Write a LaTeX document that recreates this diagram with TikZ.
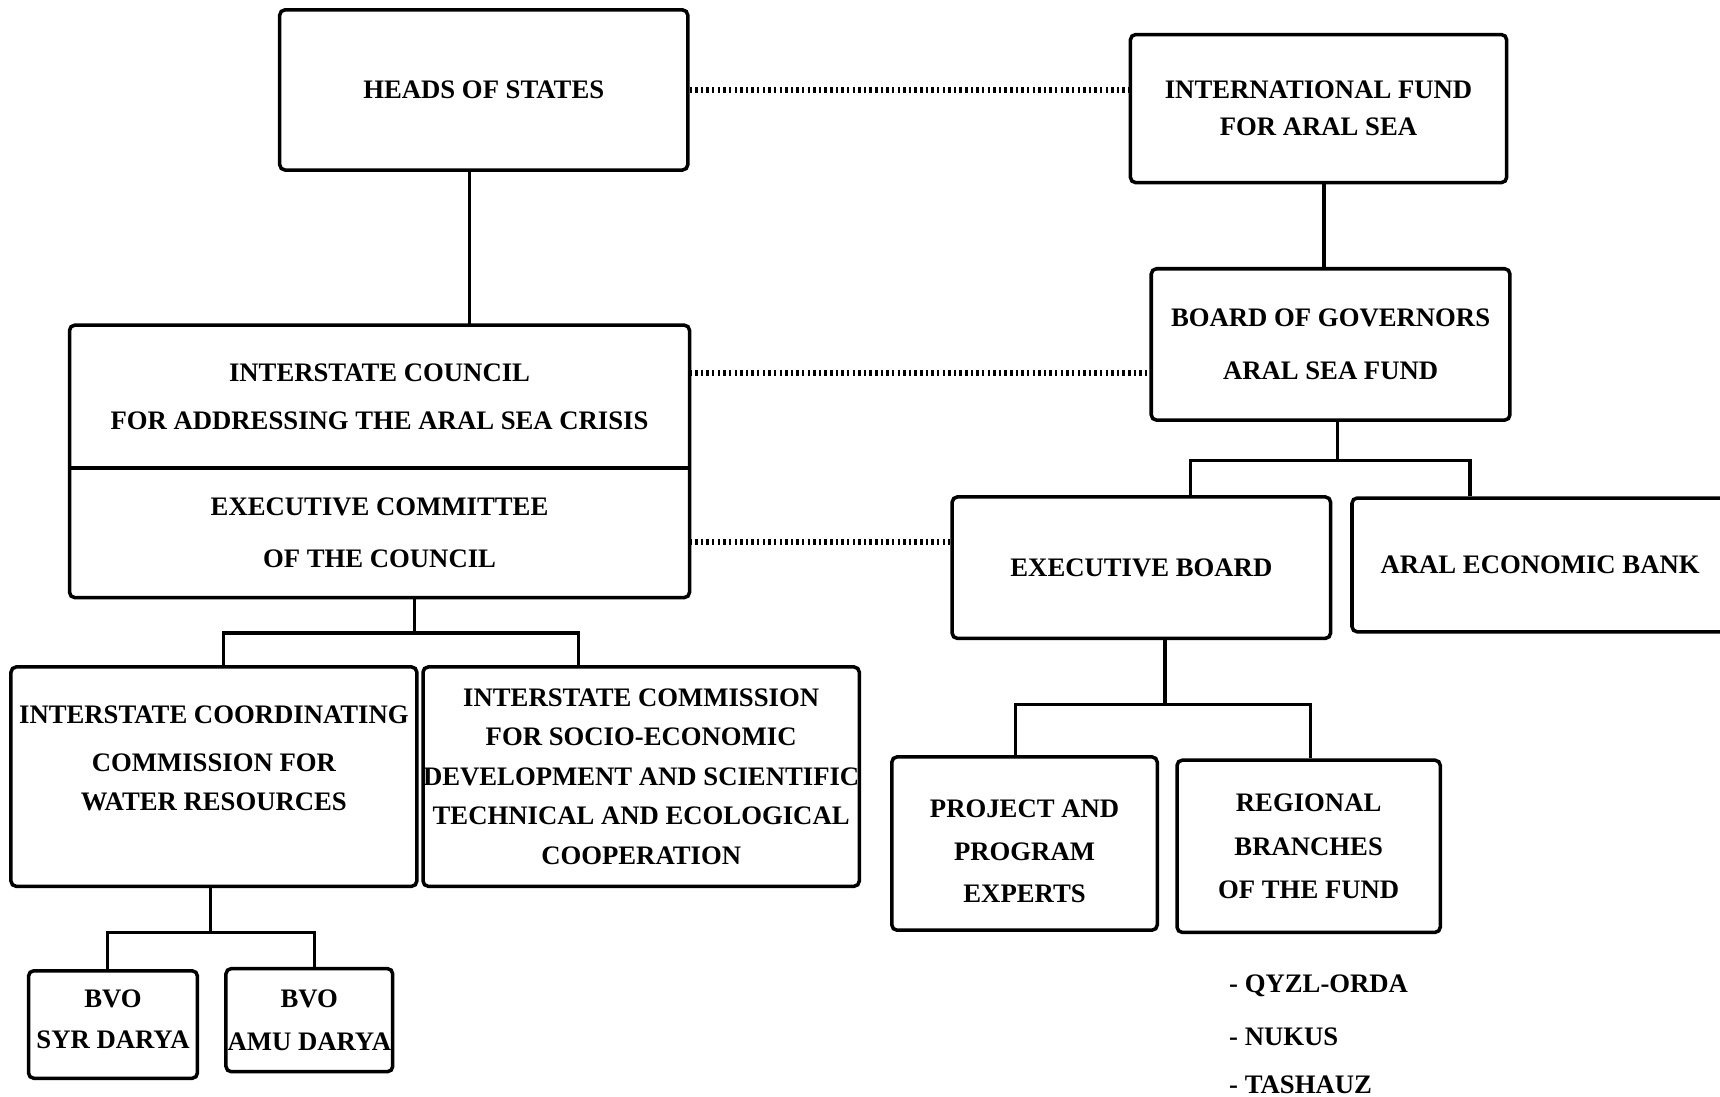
\documentclass[tikz,border=0pt]{standalone}
\usepackage{fontspec}
\setmainfont{Liberation Serif}
\tikzset{
  orgbox/.style={draw,line width=1pt,rounded corners=1.5pt,align=center,
    inner sep=0pt,font=\fontsize{7.6}{10}\selectfont\bfseries},
  boxsize/.style 2 args={minimum width=#1*0.01097cm,minimum height=#2*0.01097cm},
  link/.style={line width=0.9pt},
  dotline/.style={line width=1.6pt,dash pattern=on 0.7pt off 0.9pt}
}
\begin{document}
\begin{tikzpicture}[x=0.01097cm,y=-0.01097cm,line cap=butt,line join=miter]
  \useasboundingbox (0,0) rectangle (1568,1000);

  % Top level: heads of states and the fund
  \node[orgbox,boxsize={372}{146}] (heads) at (441,82) {HEADS OF STATES};
  \node[orgbox,boxsize={343}{135}] (fund) at (1202,99)
    {INTERNATIONAL FUND\\[0.6pt]FOR ARAL SEA};
  \node[orgbox,boxsize={327}{138}] (board) at (1213,314)
    {BOARD OF GOVERNORS\\[5.2pt]ARAL SEA FUND};

  % Council, split in two parts
  \node[orgbox,draw=none,boxsize={562}{127}] (council) at (346,361.5)
    {INTERSTATE COUNCIL\\[3.7pt]FOR ADDRESSING THE ARAL SEA CRISIS};
  \node[orgbox,draw=none,boxsize={562}{115},anchor=north] (cmte) at (council.south)
    {EXECUTIVE COMMITTEE\\[4.9pt]OF THE COUNCIL};
  \draw[line width=1pt,rounded corners=1.5pt] (council.north west) rectangle (cmte.south east);
  \draw[line width=1pt] (council.south west) -- (council.south east);

  \node[orgbox,boxsize={345}{129}] (exboard) at (1040.5,517.5)
    {EXECUTIVE BOARD};
  \node[orgbox,boxsize={343}{122}] (bank) at (1404,515)
    {ARAL ECONOMIC BANK};

  % Commissions
  \node[orgbox,boxsize={370}{200}] (coord) at (195,708)
    {INTERSTATE COORDINATING\\[3.7pt]COMMISSION FOR\\[1pt]WATER RESOURCES\\[0.6pt]~};
  \node[orgbox,boxsize={395}{200}] (comm) at (584.5,708)
    {INTERSTATE COMMISSION\\[1.2pt]FOR SOCIO-ECONOMIC\\[1.2pt]DEVELOPMENT AND SCIENTIFIC\\[1.2pt]%
     TECHNICAL AND ECOLOGICAL\\[1.2pt]COOPERATION};
  \node[orgbox,boxsize={154}{98}] (syr) at (103,934) {BVO\\[1.5pt]SYR DARYA\\[-7pt]~};
  \node[orgbox,boxsize={152}{94}] (amu) at (282,930) {BVO\\[2.1pt]AMU DARYA};

  % Fund branches
  \node[orgbox,boxsize={242}{158}] (experts) at (934,769)
    {PROJECT AND\\[2.1pt]PROGRAM\\[2.1pt]EXPERTS\\[-14.6pt]~};
  \node[orgbox,boxsize={240}{157}] (regional) at (1193,771.5)
    {REGIONAL\\[2.3pt]BRANCHES\\[2.3pt]OF THE FUND};
  \node[orgbox,draw=none,align=left,anchor=north west] (cities) at (1119,887)
    {- QYZL-ORDA\\[5pt]- NUKUS\\[3.8pt]- TASHAUZ};

  % Dotted links
  \draw[dotline] (heads.east) -- (heads.east -| fund.west);
  \draw[dotline] (council.east |- 0,340) -- (board.west |- 0,340);
  \draw[dotline] (cmte.east |- 0,494) -- (exboard.west |- 0,494);

  % Solid links
  \draw[link] (heads.south -| 428,0) -- (council.north -| 428,0);
  \draw[link] (fund.south -| 1207,0) -- (board.north -| 1207,0);

  \coordinate (boardbus) at (1219,420);
  \draw[link] (board.south -| boardbus) -- (boardbus) -| (exboard.north -| 1085,0);
  \draw[link] (boardbus) -| (bank.north -| 1340,0);

  \coordinate (cmtebus) at (378,577);
  \draw[link] (cmte.south -| cmtebus) -- (cmtebus) -| (coord.north -| 204,0);
  \draw[link] (cmtebus) -| (comm.north -| 527,0);

  \coordinate (coordbus) at (192,850);
  \draw[link] (coord.south -| coordbus) -- (coordbus) -| (syr.north -| 98,0);
  \draw[link] (coordbus) -| (amu.north -| 287,0);

  \coordinate (exbus) at (1062,642);
  \draw[link] (exboard.south -| exbus) -- (exbus) -| (experts.north -| 926,0);
  \draw[link] (exbus) -| (regional.north -| 1195,0);
\end{tikzpicture}
\end{document}
